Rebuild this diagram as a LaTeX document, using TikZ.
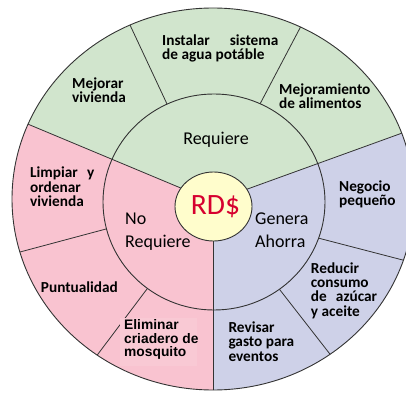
\documentclass[tikz,border=0pt]{standalone}
\usepackage{fontspec}
\setmainfont{Carlito}
\newfontfamily\arialfont{Liberation Sans}
\usetikzlibrary{calc}
\definecolor{grn}{HTML}{D1E5CD}
\definecolor{pnk}{HTML}{F9C3D0}
\definecolor{lav}{HTML}{CED1E8}
\definecolor{pnklight}{HTML}{F9C9D4}
\definecolor{ctr}{HTML}{FFFDCC}
\definecolor{rd}{HTML}{D6002F}
\definecolor{ln}{HTML}{333333}
\begin{document}
\begin{tikzpicture}[x=1pt,y=-1pt,
  divider/.style={draw=ln, line width=0.8pt},
  ring/.style={draw=ln, line width=0.9pt},
  lbl/.style={font=\fontsize{15.3}{14.3}\selectfont\bfseries, align=left, anchor=base west, inner sep=0pt, text=black},
  mid/.style={font=\fontsize{18}{22.7}\selectfont, align=left, anchor=base west, inner sep=0pt, text=black}]
\useasboundingbox (0,0) rectangle (406,395);
\clip (0,0) rectangle (406,395);
\coordinate (hub) at (213,201.5);
\coordinate (oc) at (213,199);
\coordinate (mc) at (214,202);
\coordinate (ic) at (213.5,206.5);
\coordinate (g1b) at (30,125);
\coordinate (g2b) at (405,132);
\coordinate (g1f) at ($(hub)!6!(g1b)$);
\coordinate (g2f) at ($(hub)!6!(g2b)$);
\coordinate (vf) at (213,1000);
\coordinate (a1) at (167,104); \coordinate (a2) at (130,25);
\coordinate (b1) at (260,104); \coordinate (b2) at (300,28);
\coordinate (c1) at (106,229); \coordinate (c2) at (20,252);
\coordinate (d1) at (147,289); \coordinate (d2) at (95,358);
\coordinate (e1) at (318,238); \coordinate (e2) at (395,258);
\coordinate (f1) at (280,290); \coordinate (f2) at (333,358);
\def\greenwedge{(hub) -- (g2f) -- (1400,-1500) -- (-900,-1500) -- (g1f) -- cycle}
\def\pinkwedge{(hub) -- (g1f) -- (-900,1000) -- (vf) -- cycle}
\def\lavwedge{(hub) -- (vf) -- (1400,1000) -- (g2f) -- cycle}
% outer ring
\begin{scope}
\clip (oc) ellipse [x radius=201, y radius=191];
\fill[grn] \greenwedge;
\fill[pnk] \pinkwedge;
\fill[lav] \lavwedge;
\foreach \p/\q in {a1/a2,b1/b2,c1/c2,d1/d2,e1/e2,f1/f2}
  \draw[divider] ($(\p)!-1!(\q)$) -- ($(\p)!2!(\q)$);
\end{scope}
% middle ring
\begin{scope}
\clip (mc) ellipse [x radius=111, y radius=108];
\fill[grn] \greenwedge;
\fill[pnk] \pinkwedge;
\fill[lav] \lavwedge;
\end{scope}
\begin{scope}
\clip (oc) ellipse [x radius=201, y radius=191];
\draw[divider] (hub) -- (g1f);
\draw[divider] (hub) -- (g2f);
\draw[divider] (hub) -- (vf);
\end{scope}
\draw[ring] (oc) ellipse [x radius=201, y radius=191];
\draw[ring] (mc) ellipse [x radius=111, y radius=108];
\draw[ring, fill=ctr] (ic) ellipse [x radius=38.5, y radius=34.5];
\fill[pnklight] (120,318) rectangle (197,366);
% labels (multi-line nodes: base = baseline of last line)
\node[lbl] (t1) at (162,60) {Instalar\hspace{1.3em}sistema\\de agua potáble};
\node[lbl] (t2) at (72,102.5) {Mejorar\\vivienda};
\node[lbl] (t3) at (279,108.5) {Mejoramiento\\de alimentos};
\node[mid, anchor=base] (t4) at (216,144.3) {Requiere};
\node[lbl] (t5) at (30,206.5) {Limpiar\hspace{0.6em}y\\ordenar\\vivienda};
\node[mid] (t6) at (125,247) {No\\Requiere};
\node[mid] (t7) at (255,247) {Genera\\Ahorra};
\node[anchor=base, font=\fontsize{29.5}{29.5}\selectfont, text=rd, inner sep=0pt] (rd) at (215.5,214) {RD\$};
\node[lbl] (t8) at (339,205.5) {Negocio\\pequeño};
\node[lbl] (t9) at (40.7,292.3) {Puntualidad};
\node[lbl, font=\arialfont\fontsize{13.8}{13.4}\selectfont\bfseries] (t10) at (124,356.5) {Eliminar\\criadero de\\mosquito};
\node[lbl] (t11) at (228.3,361) {Revisar\\gasto para\\eventos};
\node[lbl] (t12) at (310.7,316) {Reducir\\consumo\\de\hspace{0.6em}azúcar\\y aceite};
\end{tikzpicture}
\end{document}
